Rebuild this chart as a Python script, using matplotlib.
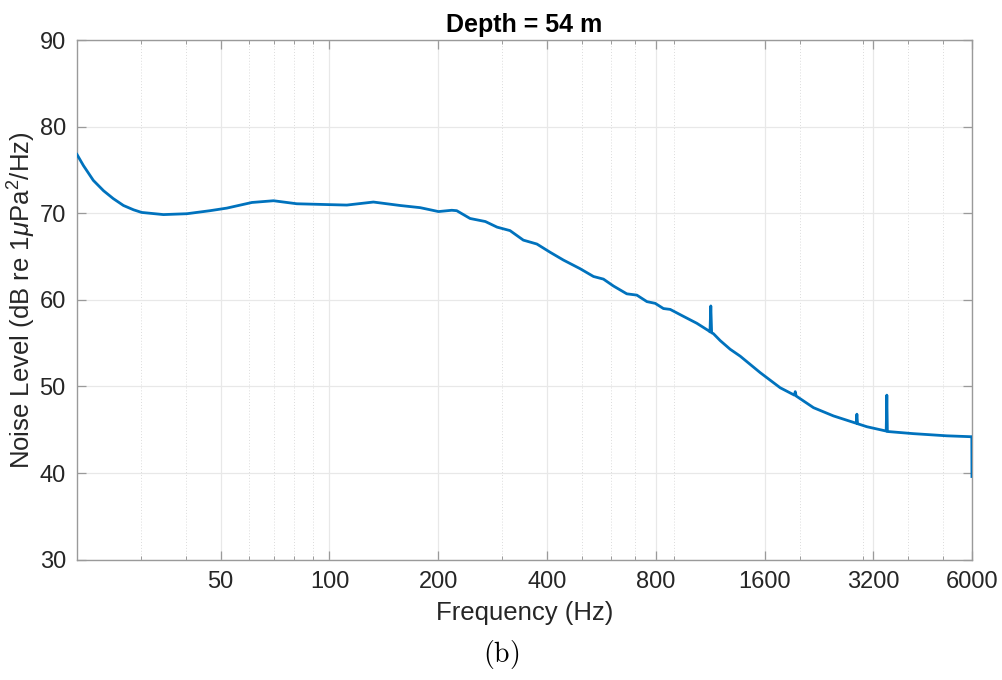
import matplotlib
matplotlib.use("Agg")
import matplotlib.pyplot as plt
from matplotlib.ticker import FixedLocator, LogLocator, NullFormatter

plt.rcParams["font.family"] = ["Liberation Sans", "DejaVu Sans"]
plt.rcParams["mathtext.fontset"] = "custom"
plt.rcParams["mathtext.rm"] = "Liberation Sans"
plt.rcParams["mathtext.it"] = "Liberation Sans:italic"

# spectrum (Hz, dB re 1 uPa^2/Hz)
freq_hz = [20, 20.85, 22.2, 23.7, 25.2, 26.9, 28.7, 30.2, 34.7, 40.3,
           46.7, 52.0, 61.0, 70.0, 81.2, 100, 111.7, 132.3, 156.9, 178.3,
           200.3, 218, 225, 245, 270, 291, 316, 344, 375, 408,
           444, 494, 538, 573, 611, 665, 709, 756, 797, 840,
           877, 954, 1039, 1119, 1130, 1136, 1142, 1155, 1206, 1285,
           1370, 1556, 1768, 1935, 1946, 1957, 2186, 2482, 2870, 2882,
           2894, 3072, 3474, 3488, 3500, 4134, 5114, 5934, 5995, 6000]
level_db = [76.8, 75.5, 73.8, 72.6, 71.7, 70.9, 70.4, 70.1, 69.85, 69.95,
            70.3, 70.6, 71.25, 71.45, 71.1, 71.0, 70.95, 71.3, 70.9, 70.65,
            70.2, 70.35, 70.3, 69.4, 69.05, 68.4, 68.0, 66.9, 66.45, 65.5,
            64.6, 63.6, 62.7, 62.4, 61.6, 60.7, 60.55, 59.8, 59.6, 59.0,
            58.9, 58.1, 57.3, 56.45, 56.3, 59.3, 56.2, 56.1, 55.3, 54.3,
            53.5, 51.6, 49.85, 49.0, 49.4, 48.9, 47.55, 46.6, 45.75, 46.8,
            45.7, 45.35, 44.85, 49.0, 44.8, 44.55, 44.3, 44.2, 44.2, 39.6]

x_ticks = [50, 100, 200, 400, 800, 1600, 3200, 6000]
x_labels = ["50", "100", "200", "400", "800", "1600", "3200", "6000"]
y_ticks = [30, 40, 50, 60, 70, 80, 90]

fig = plt.figure(figsize=(10.02, 6.8), dpi=100)
ax = fig.add_axes([0.0768, 0.177, 0.8932, 0.764])

ax.plot(freq_hz, level_db, color="#0072BD", lw=2.0, zorder=3)

ax.set_xscale("log")
ax.set_xlim(20, 6000)
ax.set_ylim(30, 90)
ax.xaxis.set_major_locator(FixedLocator(x_ticks))
ax.set_xticklabels(x_labels)
ax.xaxis.set_minor_locator(LogLocator(base=10, subs=range(2, 10), numticks=20))
ax.xaxis.set_minor_formatter(NullFormatter())
ax.set_yticks(y_ticks)

ax.grid(which="major", color="#e8e8e8", lw=0.9)
ax.grid(which="minor", axis="x", color="#dcdcdc", ls=(0, (1, 2)), lw=0.7)
ax.set_axisbelow(True)

for sp in ax.spines.values():
    sp.set_color("#9a9a9a")
    sp.set_linewidth(1.0)
ax.tick_params(which="both", direction="in", top=True, right=True,
               color="#9a9a9a", labelcolor="#262626", labelsize=17)
ax.tick_params(which="major", length=6.5, width=0.9, pad=8)
ax.tick_params(which="minor", length=3.2, width=0.7)

ax.set_title("Depth = 54 m", fontsize=18, fontweight="bold", pad=6)
ax.set_xlabel("Frequency (Hz)", fontsize=18.5, color="#262626", labelpad=6)
ax.set_ylabel("Noise Level (dB re 1$\\mu$Pa$^2$/Hz)", fontsize=18.5,
              color="#262626", labelpad=1)

fig.text(0.5, 0.037, "$\\mathrm{(b)}$", ha="center", va="center",
         fontsize=20, math_fontfamily="cm")

fig.savefig("out.png", dpi=100)
